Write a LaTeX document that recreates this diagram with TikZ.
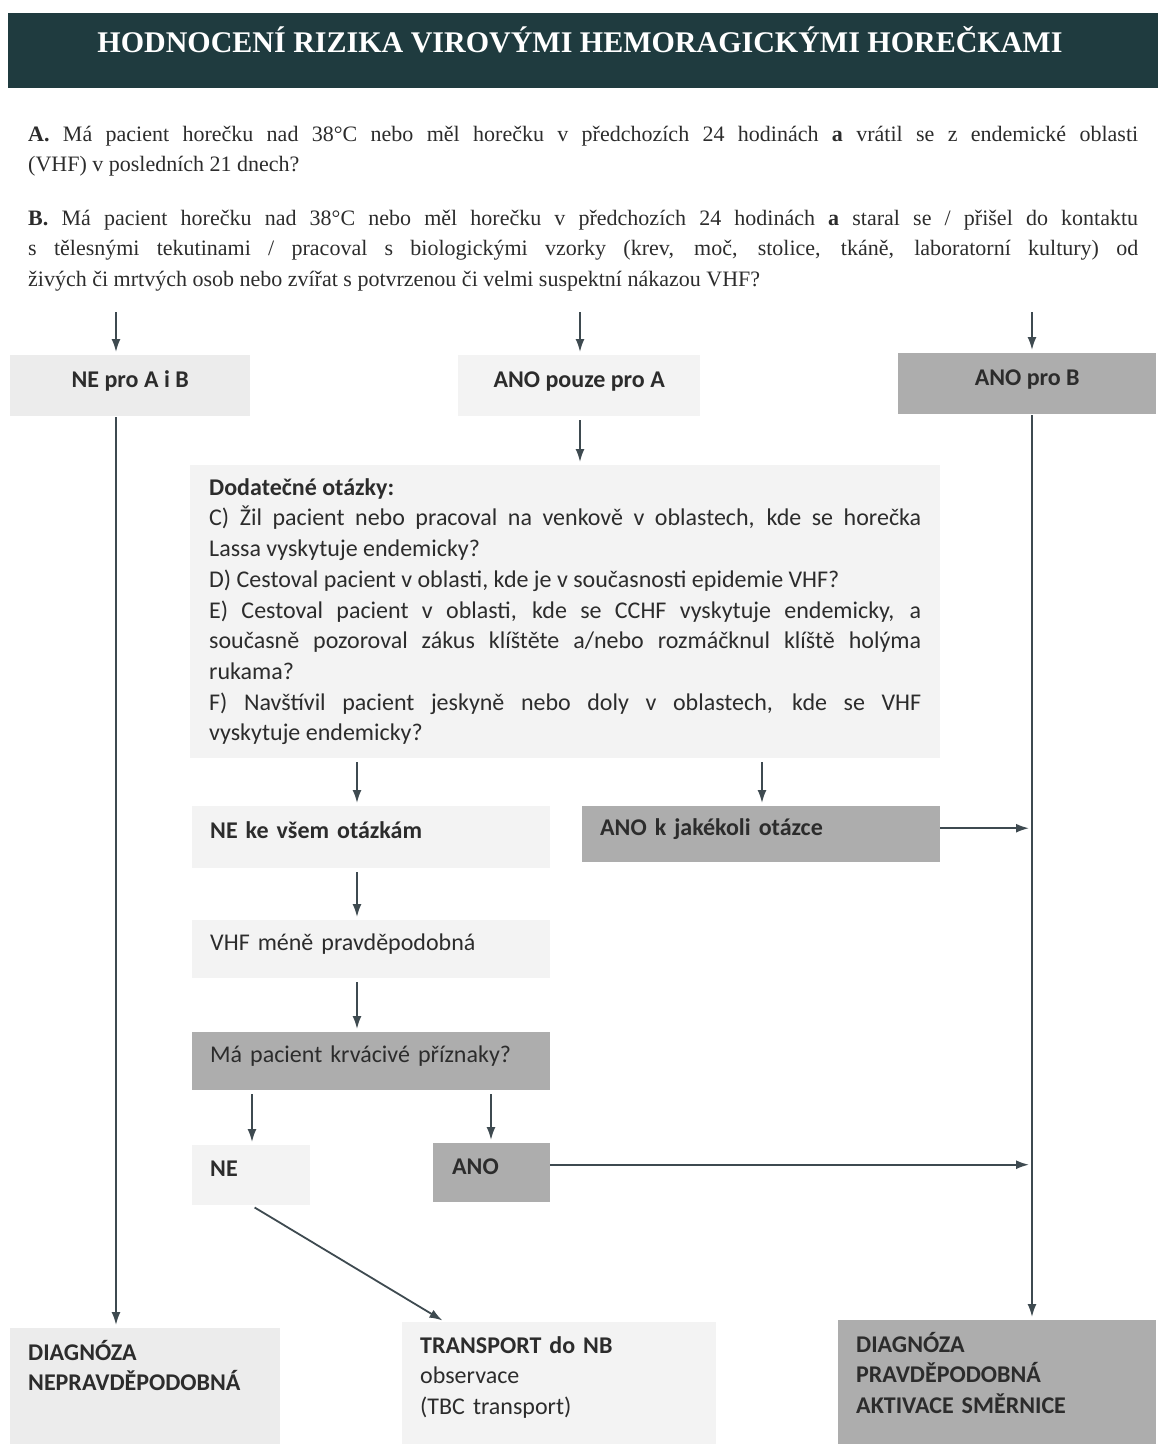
\documentclass[tikz,border=0pt]{standalone}
\usepackage{fontspec}
\setmainfont{Liberation Serif}
\setsansfont{Carlito}
\usetikzlibrary{arrows.meta}

\definecolor{titlebg}{HTML}{1F3B3F}
\definecolor{boxlight}{HTML}{ECECEC}
\definecolor{boxpale}{HTML}{F3F3F3}
\definecolor{boxdark}{HTML}{ADADAD}
\definecolor{arrowc}{HTML}{3E4A50}
\definecolor{txt}{HTML}{2C2C2C}

\tikzset{
  question/.style={anchor=base west, inner sep=0pt, text width=1110pt, align=justify,
    text=txt, font=\rmfamily\fontsize{22}{30.5}\selectfont},
  box/.style={rectangle, anchor=north west, inner xsep=18pt, inner ysep=0pt, text=txt,
    font=\sffamily\fontsize{24}{30.7}\selectfont, text height=17pt, text depth=14pt},
  endbox/.style={box, align=left, text height=32pt},
  arr/.style={->, draw=arrowc, line width=1.8pt, shorten >=3pt, shorten <=4pt}
}

\begin{document}
\begin{tikzpicture}[x=1pt, y=-1pt, >={Latex[length=13pt,width=9pt]}]
\useasboundingbox (0,0) rectangle (1158,1444);

% title
\fill[titlebg] (8,13) rectangle (1158,88);
\node[anchor=base, inner sep=0pt, text=white, font=\rmfamily\bfseries\fontsize{30}{30}\selectfont] (title) at (580,52)
  {HODNOCENÍ RIZIKA VIROVÝMI HEMORAGICKÝMI HOREČKAMI};

% questions A and B
\node[question] (qA) at (28,141) {\textbf{A.} Má pacient horečku nad 38°C nebo měl horečku v~předchozích 24 hodinách \textbf{a} vrátil se z endemické oblasti\linebreak (VHF) v posledních 21 dnech?};
\node[question] (qB) at (28,225) {\textbf{B.} Má pacient horečku nad 38°C nebo měl horečku v~předchozích 24 hodinách \textbf{a} staral se / přišel do kontaktu\linebreak s tělesnými tekutinami / pracoval s biologickými vzorky (krev, moč, stolice, tkáně, laboratorní kultury) od\linebreak živých či mrtvých osob nebo zvířat s potvrzenou či velmi suspektní nákazou VHF?};

\coordinate (cL) at (116,308);
\coordinate (cM) at (580,308);
\coordinate (cR) at (1032,308);
\coordinate (cQ) at (357,0);
\coordinate (cY) at (762,0);
\coordinate (cN) at (252,0);
\coordinate (cA) at (491,0);

% first row
\node[box, fill=boxlight, minimum width=240pt, minimum height=61pt] (nepro) at (10,355) {\textbf{NE pro A i B}};
\node[box, fill=boxpale, minimum width=242pt, minimum height=61pt] (anoA) at (458,355) {\textbf{ANO pouze pro A}};
\node[box, fill=boxdark, minimum width=258pt, minimum height=61pt] (anoB) at (898,353) {\textbf{ANO pro B}};

% extra questions
\node[box, fill=boxpale, minimum width=750pt, minimum height=293pt, inner xsep=19pt, text width=712pt,
  align=justify, text height=, text depth=] (extra) at (190,465)
  {\textbf{Dodatečné otázky:}\\
   C) Žil pacient nebo pracoval na venkově v~oblastech, kde se horečka\linebreak Lassa vyskytuje endemicky?\\
   D) Cestoval pacient v oblasti, kde je v současnosti epidemie VHF?\\
   E) Cestoval pacient v~oblasti, kde se CCHF vyskytuje endemicky, a\linebreak současně pozoroval zákus klíštěte a/nebo rozmáčknul klíště holýma\linebreak rukama?\\
   F) Navštívil pacient jeskyně nebo doly v~oblastech, kde se VHF\linebreak vyskytuje endemicky?};

\node[box, fill=boxpale, minimum width=358pt, minimum height=62pt, text width=322pt] (neall) at (192,806) {\textbf{NE ke všem otázkám}};
\node[box, fill=boxdark, minimum width=358pt, minimum height=56pt, text width=322pt] (anyq) at (582,806) {\textbf{ANO k jakékoli otázce}};
\node[box, fill=boxpale, minimum width=358pt, minimum height=58pt, text width=322pt] (vhfless) at (192,920) {VHF méně pravděpodobná};
\node[box, fill=boxdark, minimum width=358pt, minimum height=58pt, text width=322pt] (bleed) at (192,1032) {Má pacient krvácivé příznaky?};
\node[box, fill=boxpale, minimum width=118pt, minimum height=60pt, text width=82pt] (neB) at (192,1145) {\textbf{NE}};
\node[box, fill=boxdark, minimum width=117pt, minimum height=59pt, inner xsep=19pt, text width=79pt] (anoC) at (433,1143) {\textbf{ANO}};

% results
\node[endbox, fill=boxlight, text width=234pt, text depth=84pt] (diagN) at (10,1328)
  {\textbf{DIAGNÓZA\\NEPRAVDĚPODOBNÁ}};
\node[endbox, fill=boxpale, text width=278pt, text depth=91pt, text height=31pt] (transport) at (402,1322)
  {\textbf{TRANSPORT do NB}\\observace\\(TBC transport)};
\node[endbox, fill=boxdark, text width=282pt, text depth=92pt] (diagP) at (838,1320)
  {\textbf{DIAGNÓZA\\PRAVDĚPODOBNÁ\\AKTIVACE SMĚRNICE}};

% arrows
\draw[arr] (cL) -- (cL |- nepro.north);
\draw[arr] (cM) -- (cM |- anoA.north);
\draw[arr] (cR) -- (cR |- anoB.north);
\draw[arr, shorten <=1pt] (cL |- nepro.south) -- (cL |- diagN.north);
\draw[arr] (cM |- anoA.south) -- (cM |- extra.north);
\draw[arr, shorten <=1pt] (cR |- anoB.south) -- (cR |- diagP.north);
\draw[arr] (cQ |- extra.south) -- (cQ |- neall.north);
\draw[arr] (cY |- extra.south) -- (cY |- anyq.north);
\draw[arr, shorten <=0pt] ([yshift=6pt]anyq.east) -- ([yshift=6pt]anyq.east -| cR);
\draw[arr] (cQ |- neall.south) -- (cQ |- vhfless.north);
\draw[arr] (cQ |- vhfless.south) -- (cQ |- bleed.north);
\draw[arr] (cN |- bleed.south) -- (cN |- neB.north);
\draw[arr] (cA |- bleed.south) -- (cA |- anoC.north);
\draw[arr, shorten <=0pt] ([yshift=8pt]anoC.east) -- ([yshift=8pt]anoC.east -| cR);
\draw[arr] (neB.south) -- ([xshift=43pt]transport.north west);
\end{tikzpicture}
\end{document}
